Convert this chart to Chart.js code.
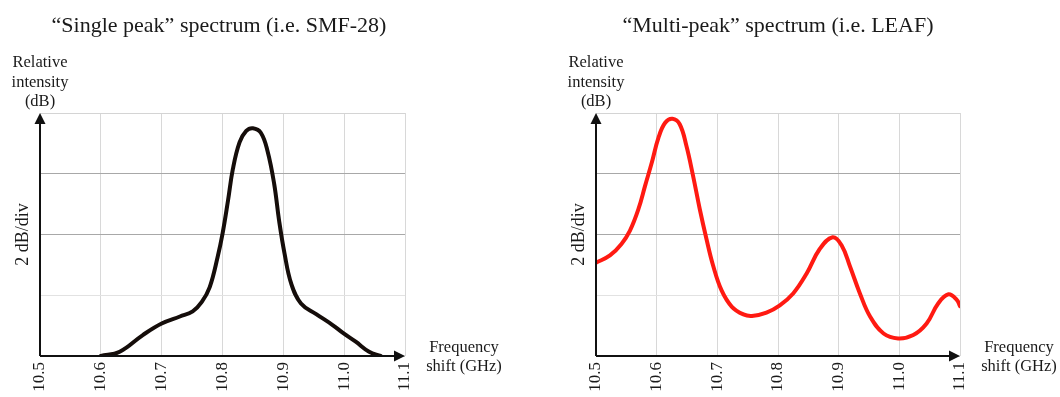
<!DOCTYPE html>
<html>
<head>
<meta charset="utf-8">
<script src="https://cdn.jsdelivr.net/npm/chart.js@4/dist/chart.umd.min.js"></script>
<style>
  html, body { margin: 0; padding: 0; background: #fff; }
  #wrap { position: relative; width: 1060px; height: 397px; }
  canvas { position: absolute; top: 0; }
  #smf { left: 0; }
  #leaf { left: 530px; }
</style>
</head>
<body>
<div id="wrap">
  <canvas id="smf" width="530" height="397"></canvas>
  <canvas id="leaf" width="530" height="397"></canvas>
</div>
<script>
// frequency shift (GHz) and relative intensity (dB above the floor)
const smfFreq = [10.6, 10.631, 10.669, 10.7, 10.73, 10.751, 10.766, 10.779, 10.792, 10.8, 10.809, 10.817, 10.828, 10.839, 10.85, 10.863, 10.874, 10.885, 10.893, 10.902, 10.913, 10.929, 10.954, 10.981, 10.998, 11.019, 11.041, 11.06];
const smfLevel = [0, 0.14, 0.69, 1.07, 1.3, 1.47, 1.78, 2.27, 3.26, 4.02, 5.11, 6.15, 7.03, 7.41, 7.5, 7.35, 6.75, 5.66, 4.46, 3.37, 2.38, 1.73, 1.38, 1.02, 0.76, 0.47, 0.14, 0];

const leafFreq = [10.5, 10.523, 10.542, 10.556, 10.57, 10.581, 10.592, 10.603, 10.614, 10.626, 10.638, 10.649, 10.66, 10.671, 10.682, 10.693, 10.707, 10.724, 10.743, 10.757, 10.781, 10.803, 10.825, 10.847, 10.869, 10.89, 10.905, 10.919, 10.935, 10.952, 10.974, 10.998, 11.023, 11.045, 11.064, 11.081, 11.095, 11.1];
const leafLevel = [3.07, 3.31, 3.69, 4.13, 4.84, 5.61, 6.37, 7.19, 7.68, 7.81, 7.63, 6.92, 5.93, 4.84, 3.86, 2.98, 2.16, 1.62, 1.37, 1.32, 1.43, 1.67, 2.06, 2.71, 3.53, 3.91, 3.64, 2.93, 2.06, 1.29, 0.74, 0.58, 0.69, 1.07, 1.73, 2.03, 1.84, 1.64];

const freqTicks = ['10.5', '10.6', '10.7', '10.8', '10.9', '11.0', '11.1'];
const dbPerDiv = 2;
const divisions = 4;

const serif = '"Liberation Serif", "DejaVu Serif", serif';

const points = (xs, ys) => xs.map((x, i) => ({ x, y: ys[i] }));

// axis arrows and the text around each plot
const decorations = {
  id: 'decorations',
  afterDraw(chart, args, opts) {
    const { ctx, chartArea: a } = chart;
    ctx.save();
    ctx.strokeStyle = '#111';
    ctx.fillStyle = '#111';
    ctx.lineWidth = 2;

    ctx.beginPath();
    ctx.moveTo(a.left, a.bottom);
    ctx.lineTo(a.right - 8, a.bottom);
    ctx.moveTo(a.left, a.bottom);
    ctx.lineTo(a.left, a.top + 8);
    ctx.stroke();

    ctx.beginPath();
    ctx.moveTo(a.right, a.bottom);
    ctx.lineTo(a.right - 11, a.bottom - 5.5);
    ctx.lineTo(a.right - 11, a.bottom + 5.5);
    ctx.closePath();
    ctx.fill();

    ctx.beginPath();
    ctx.moveTo(a.left, a.top);
    ctx.lineTo(a.left - 5.5, a.top + 11);
    ctx.lineTo(a.left + 5.5, a.top + 11);
    ctx.closePath();
    ctx.fill();

    ctx.fillStyle = '#1a1a1a';
    ctx.textAlign = 'center';
    ctx.textBaseline = 'alphabetic';

    ctx.font = `22px ${serif}`;
    ctx.fillText(opts.title, opts.titleX, 32);

    ctx.font = `16.5px ${serif}`;
    ['Relative', 'intensity', '(dB)'].forEach((t, i) => ctx.fillText(t, a.left, 67 + i * 19.5));

    ['Frequency', 'shift (GHz)'].forEach((t, i) => ctx.fillText(t, a.right + 59, 352 + i * 18.5));

    ctx.save();
    ctx.translate(a.left - 17, (a.top + a.bottom) / 2);
    ctx.rotate(-Math.PI / 2);
    ctx.font = `18px ${serif}`;
    ctx.textBaseline = 'middle';
    ctx.fillText(`${dbPerDiv} dB/div`, 0, 0);
    ctx.restore();

    ctx.restore();
  }
};

function hGridColor(ctx) {
  const v = ctx.tick ? ctx.tick.value : 0;
  if (v === 4 || v === 6) return '#a8a8a8';
  if (v === 2) return '#e2e2e2';
  return '#d4d4d4';
}

function spectrum(id, xs, ys, color, title, titleX, padLeft, padRight) {
  return new Chart(document.getElementById(id), {
    type: 'line',
    data: {
      datasets: [{
        data: points(xs, ys),
        borderColor: color,
        borderWidth: 4,
        borderCapStyle: 'round',
        borderJoinStyle: 'round',
        pointRadius: 0,
        tension: 0.4,
        fill: false
      }]
    },
    options: {
      responsive: false,
      animation: false,
      devicePixelRatio: 1,
      layout: { padding: { left: padLeft, right: padRight, top: 113, bottom: 0 } },
      plugins: {
        legend: { display: false },
        tooltip: { enabled: false },
        decorations: { title, titleX }
      },
      scales: {
        x: {
          type: 'linear',
          min: 10.5,
          max: 11.1,
          afterFit: s => { s.height = 41; },
          afterBuildTicks: s => { s.ticks = freqTicks.map(t => ({ value: parseFloat(t) })); },
          border: { display: false },
          grid: { color: '#d8d8d8', lineWidth: 1, drawTicks: false },
          ticks: {
            autoSkip: false,
            minRotation: 90,
            maxRotation: 90,
            padding: 6,
            color: '#1a1a1a',
            font: { family: serif, size: 17 },
            callback: (v, i) => freqTicks[i]
          }
        },
        y: {
          min: 0,
          max: dbPerDiv * divisions,
          afterFit: s => { s.width = 0; },
          border: { display: false },
          grid: { color: hGridColor, lineWidth: 1, drawTicks: false },
          ticks: { display: false, stepSize: dbPerDiv }
        }
      }
    },
    plugins: [decorations]
  });
}

spectrum('smf', smfFreq, smfLevel, '#150d0a', '\u201CSingle peak\u201D spectrum (i.e. SMF-28)', 219, 40, 125);
spectrum('leaf', leafFreq, leafLevel, '#ff1a12', '\u201CMulti-peak\u201D spectrum (i.e. LEAF)', 248, 66, 100);
</script>
</body>
</html>
